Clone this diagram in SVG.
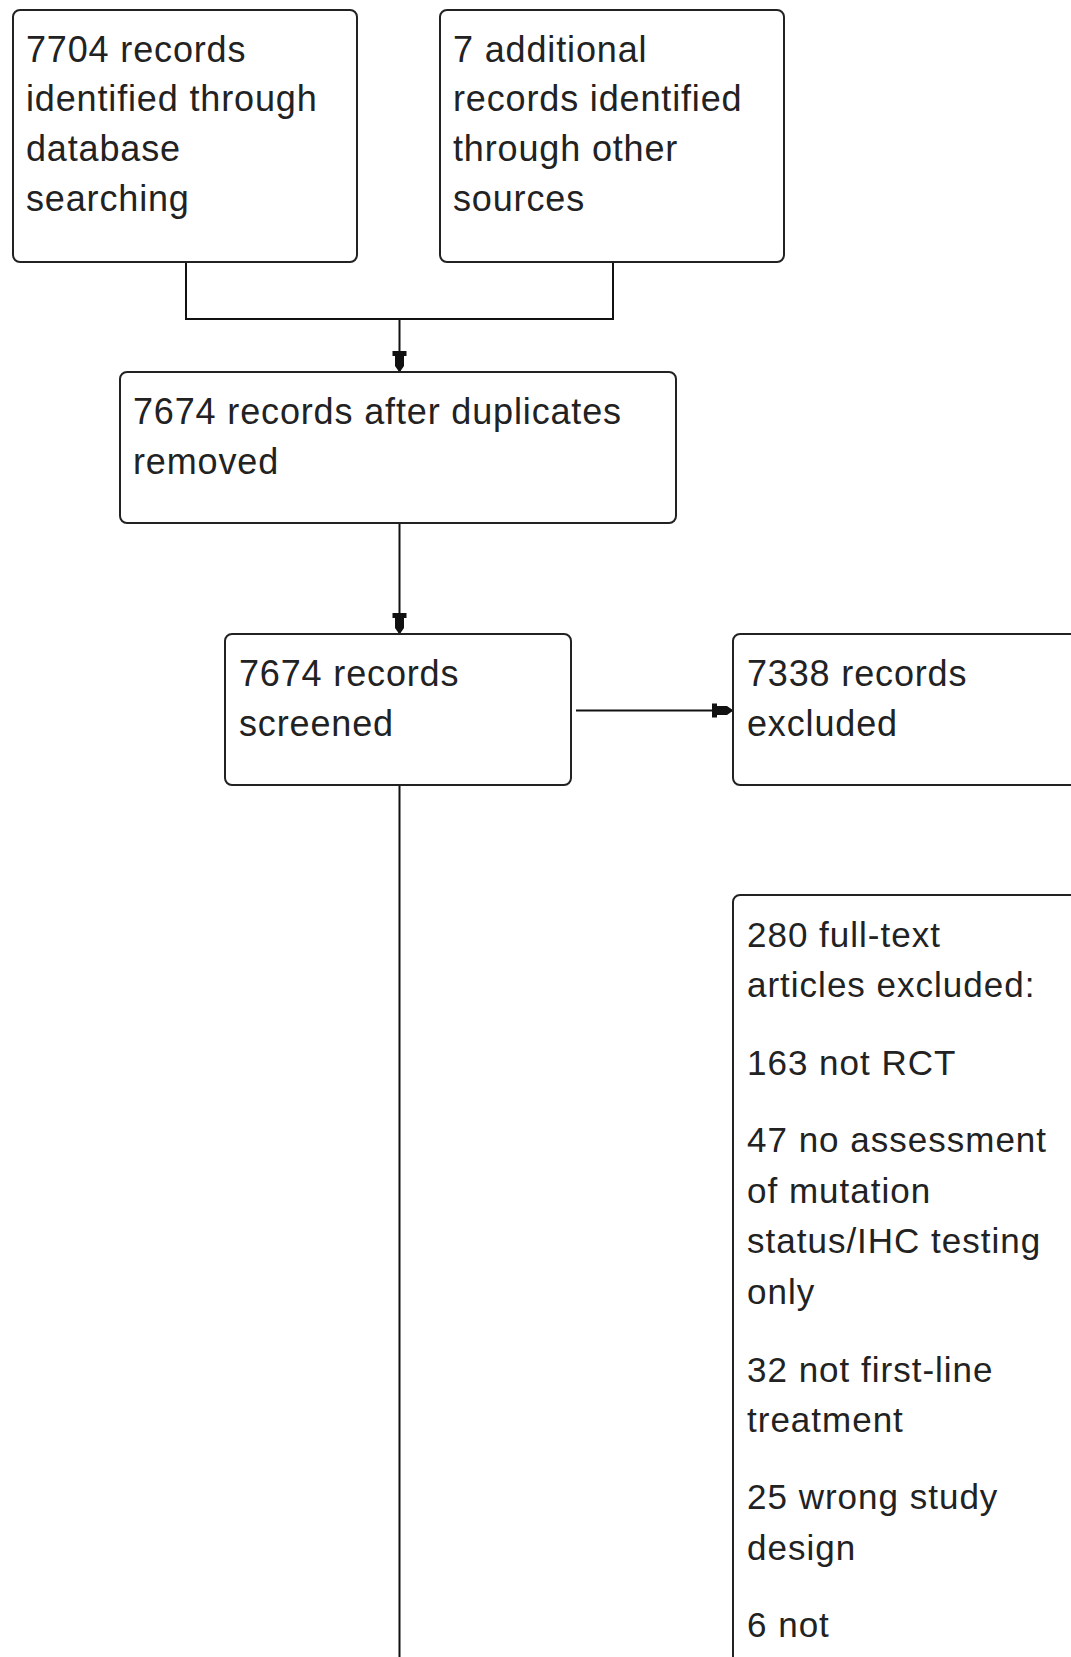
<svg xmlns="http://www.w3.org/2000/svg" width="1071" height="1657" viewBox="0 0 1071 1657">
<style>
.box{fill:#fff;stroke:#222;stroke-width:2}
.t{font-family:"Liberation Sans",Arial,sans-serif;font-size:36px;letter-spacing:0.85px;fill:#222}
.t6{font-family:"Liberation Sans",Arial,sans-serif;font-size:35px;letter-spacing:1px;fill:#222}
.c{fill:none;stroke:#111;stroke-width:2}
</style>
<defs>
<marker id="ah" markerUnits="userSpaceOnUse" markerWidth="24" markerHeight="18" viewBox="-22 -9 24 18" refX="0" refY="0" orient="auto">
<path d="M-20,-7 L-15,-7 L-15,-4.5 L-5,-4.5 L0,-1 L0,1 L-5,4.5 L-15,4.5 L-15,7 L-20,7 Z" fill="#111"/>
</marker>
</defs>
<rect width="1071" height="1657" fill="#fff"/>
<g id="connectors">
<path class="c" d="M186,263 V319 H613 V263"/>
<path class="c" d="M399.5,319 V371" marker-end="url(#ah)"/>
<path class="c" d="M399.5,524 V633" marker-end="url(#ah)"/>
<path class="c" d="M576,710.5 H732" marker-end="url(#ah)"/>
<path class="c" d="M399.5,786 V1657"/>
</g>
<g id="n1">
<rect class="box" x="13" y="10" width="344" height="252" rx="7"/>
<text class="t"><tspan x="26" y="61.5">7704 records</tspan><tspan x="26" y="111">identified through</tspan><tspan x="26" y="161">database</tspan><tspan x="26" y="211">searching</tspan></text>
</g>
<g id="n2">
<rect class="box" x="440" y="10" width="344" height="252" rx="7"/>
<text class="t"><tspan x="453" y="61.5">7 additional</tspan><tspan x="453" y="111">records identified</tspan><tspan x="453" y="161">through other</tspan><tspan x="453" y="211">sources</tspan></text>
</g>
<g id="n3">
<rect class="box" x="120" y="372" width="556" height="151" rx="7"/>
<text class="t"><tspan x="133" y="424">7674 records after duplicates</tspan><tspan x="133" y="474">removed</tspan></text>
</g>
<g id="n4">
<rect class="box" x="225" y="634" width="346" height="151" rx="7"/>
<text class="t"><tspan x="239" y="686">7674 records</tspan><tspan x="239" y="736">screened</tspan></text>
</g>
<g id="n5">
<rect class="box" x="733" y="634" width="380" height="151" rx="7"/>
<text class="t"><tspan x="747" y="686">7338 records</tspan><tspan x="747" y="736">excluded</tspan></text>
</g>
<g id="n6">
<rect class="box" x="733" y="895" width="380" height="800" rx="7"/>
<text class="t6"><tspan x="747" y="946.5">280 full-text</tspan><tspan x="747" y="997">articles excluded:</tspan><tspan x="747" y="1075">163 not RCT</tspan><tspan x="747" y="1152">47 no assessment</tspan><tspan x="747" y="1203">of mutation</tspan><tspan x="747" y="1253">status/IHC testing</tspan><tspan x="747" y="1304">only</tspan><tspan x="747" y="1382">32 not first-line</tspan><tspan x="747" y="1432">treatment</tspan><tspan x="747" y="1509">25 wrong study</tspan><tspan x="747" y="1560">design</tspan><tspan x="747" y="1637">6 not</tspan></text>
</g>
</svg>
